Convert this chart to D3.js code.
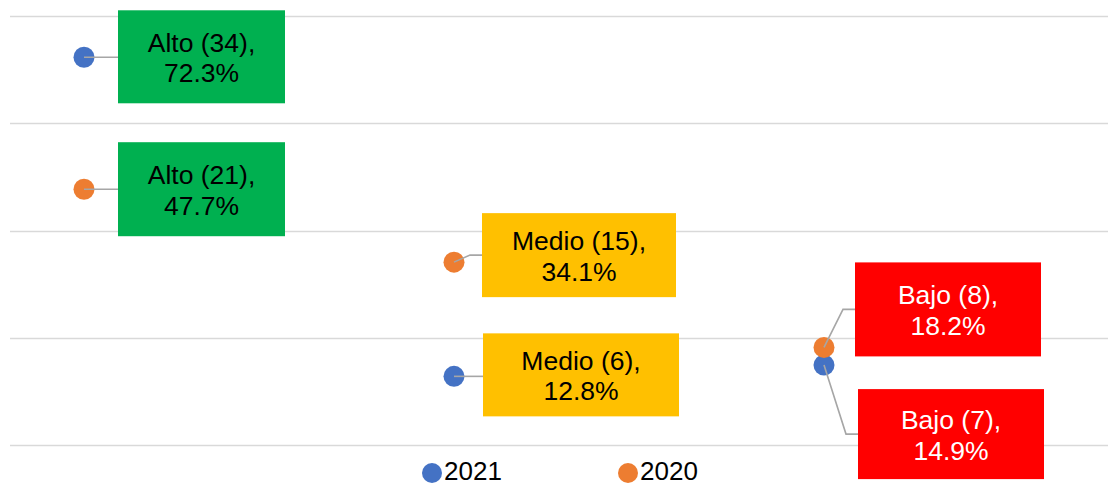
<!DOCTYPE html>
<html><head><meta charset="utf-8">
<script src="https://cdn.jsdelivr.net/npm/d3@7"></script>
<style>html,body{margin:0;padding:0;background:#fff;}svg{display:block;}</style>
</head><body>
<script>
const categories = ["Alto", "Medio", "Bajo"];
const series = ["2021", "2020"];
const counts2021 = [34, 6, 7];
const pct2021 = [72.3, 12.8, 14.9];
const counts2020 = [21, 15, 8];
const pct2020 = [47.7, 34.1, 18.2];
const yTicks = [0, 20, 40, 60, 80];

const W = 1108, H = 486;
const colors = {"2021": "#4472C4", "2020": "#ED7D31"};
const boxColors = {"Alto": "#00B050", "Medio": "#FFC000", "Bajo": "#FF0000"};
const textColors = {"Alto": "#000", "Medio": "#000", "Bajo": "#fff"};
// label box layout offsets relative to the point (dx, dy to top-left, w, h)
const labelLayout = {
  "2021": [[34, -47, 167, 93], [29, -43, 196, 83], [34, 24, 186, 90]],
  "2020": [[34, -47, 167, 94], [28, -49, 194, 84], [31, -85, 186, 94]]
};

const svg = d3.select("body").append("svg").attr("width", W).attr("height", H);

const x = d3.scalePoint().domain(categories).range([84, 824]);
const y = d3.scaleLinear().domain([0, 80]).range([445, 16]);

// gridlines
svg.append("g").selectAll("line").data(yTicks).join("line")
  .attr("x1", 10).attr("x2", W).attr("y1", d => Math.round(y(d)) + 0.5).attr("y2", d => Math.round(y(d)) + 0.5)
  .attr("stroke", "#D9D9D9").attr("stroke-width", 1.5);

const data = [];
series.forEach(s => {
  const counts = s === "2021" ? counts2021 : counts2020;
  const pcts = s === "2021" ? pct2021 : pct2020;
  categories.forEach((c, i) => data.push({s, c, i, n: counts[i], p: pcts[i]}));
});

// dots (2021 first, 2020 on top)
svg.append("g").selectAll("circle").data(data).join("circle")
  .attr("cx", d => x(d.c)).attr("cy", d => y(d.p)).attr("r", 10.5)
  .attr("fill", d => colors[d.s]);

// leader lines
svg.append("g").selectAll("polyline").data(data).join("polyline")
  .attr("points", d => {
    const [dx, dy, w, h] = labelLayout[d.s][d.i];
    const px = x(d.c), py = y(d.p);
    const bx = px + dx, cy = py + dy + h / 2;
    if (Math.abs(cy - py) < 2) return `${px},${py} ${bx},${py}`;
    return `${px},${py} ${bx - 12},${cy} ${bx},${cy}`;
  })
  .attr("fill", "none").attr("stroke", "#A6A6A6").attr("stroke-width", 1.6);

// label boxes
const lab = svg.append("g").selectAll("g").data(data).join("g")
  .attr("transform", d => {
    const [dx, dy] = labelLayout[d.s][d.i];
    return `translate(${x(d.c) + dx},${y(d.p) + dy})`;
  });
lab.append("rect")
  .attr("width", d => labelLayout[d.s][d.i][2])
  .attr("height", d => labelLayout[d.s][d.i][3])
  .attr("fill", d => boxColors[d.c]);
const t = lab.append("text")
  .attr("text-anchor", "middle")
  .attr("font-family", "Liberation Sans, Arial, sans-serif")
  .attr("font-size", 26.5)
  .attr("fill", d => textColors[d.c]);
t.append("tspan")
  .attr("x", d => labelLayout[d.s][d.i][2] / 2)
  .attr("y", d => labelLayout[d.s][d.i][3] / 2 - 5)
  .text(d => `${d.c} (${d.n}),`);
t.append("tspan")
  .attr("x", d => labelLayout[d.s][d.i][2] / 2)
  .attr("y", d => labelLayout[d.s][d.i][3] / 2 + 25.5)
  .text(d => `${d.p.toFixed(1)}%`);

// legend
const legendX = [432, 628];
const lg = svg.append("g").selectAll("g").data(series).join("g")
  .attr("transform", (d, i) => `translate(${legendX[i]},473)`);
lg.append("circle").attr("r", 10).attr("fill", d => colors[d]);
lg.append("text").attr("x", 12).attr("y", 7)
  .attr("font-family", "Liberation Sans, Arial, sans-serif").attr("font-size", 26)
  .attr("fill", "#000").text(d => d);
</script>
</body></html>
